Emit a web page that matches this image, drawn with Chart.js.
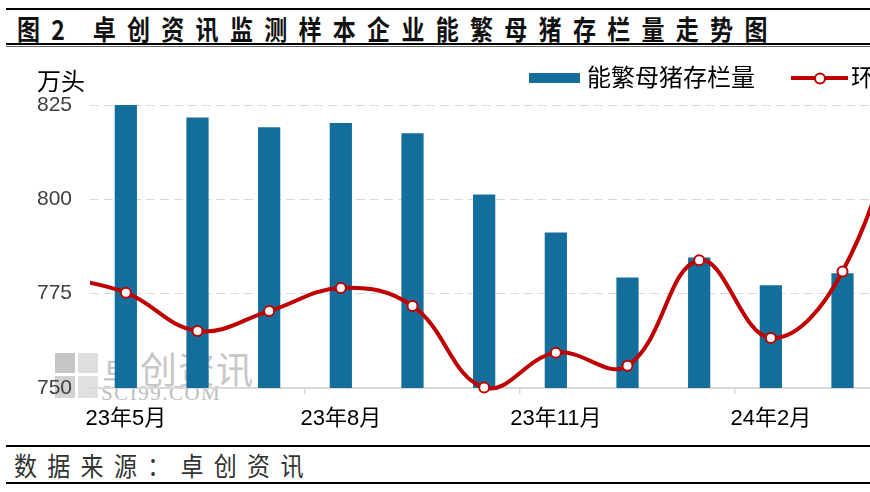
<!DOCTYPE html>
<html>
<head>
<meta charset="utf-8">
<script src="https://cdn.jsdelivr.net/npm/chart.js@4.4.1/dist/chart.umd.min.js"></script>
<style>
  body { margin: 0; width: 870px; height: 492px; overflow: hidden; background: #fff; position: relative; font-family: "Noto Sans CJK SC", sans-serif; }
  .rule { position: absolute; left: 6px; width: 870px; background: #000; }
  .title { position: absolute; left: 17px; top: 15px; font-size: 23px; line-height: 23px; font-weight: bold; letter-spacing: 11.3px; white-space: nowrap; transform: scaleY(1.18); transform-origin: top left; color: #111; }
  .source { position: absolute; left: 14px; top: 452px; font-size: 23px; line-height: 23px; letter-spacing: 10.3px; white-space: nowrap; transform: scaleY(1.15); transform-origin: top left; color: #333; }
  .wm { position: absolute; color: #c8c8c8; white-space: nowrap; }
  .sq { position: absolute; background: #c6c6c6; }
  #wrap { position: absolute; left: 0; top: 50px; width: 972px; height: 390px; }
</style>
</head>
<body>
<div class="rule" style="top:8px;height:2px"></div>
<div class="title">图2 卓创资讯监测样本企业能繁母猪存栏量走势图</div>
<div class="rule" style="top:43px;height:2px"></div>
<div class="rule" style="top:46px;height:1px;background:#666"></div>

<!-- watermark -->
<div class="sq" style="left:55px;top:353px;width:20px;height:20px"></div>
<div class="sq" style="left:78px;top:353px;width:20px;height:20px;background:#dedede"></div>
<div class="sq" style="left:55px;top:376px;width:20px;height:22px;background:#d2d2d2"></div>
<div class="sq" style="left:78px;top:376px;width:20px;height:22px;background:#e0e0e0"></div>
<div class="wm" style="left:102px;top:341px;font-size:37px;letter-spacing:1px">卓创资讯</div>
<div class="wm" style="left:101px;top:381px;font-size:21px;font-family:'Liberation Serif';letter-spacing:1.5px;color:#bdbdbd">SCI99.COM</div>

<div id="wrap"><canvas id="sowChart" width="972" height="390"></canvas></div>

<div class="rule" style="top:445px;height:2px"></div>
<div class="source">数据来源：卓创资讯</div>
<div class="rule" style="top:482px;height:2px"></div>

<script>
// months; 23年4月 sits left of the plot and 24年4月 past the right edge of the page,
// only the line reaches them
const months = ['23年4月', '23年5月', '23年6月', '23年7月', '23年8月', '23年9月', '23年10月',
  '23年11月', '23年12月', '24年1月', '24年2月', '24年3月', '24年4月'];
// 能繁母猪存栏量, 万头
const sowStock = [null, 825.4, 821.7, 819.1, 820.2, 817.5, 801.3, 791.2, 779.3, 784.6, 777.2, 780.4, null];
// 环比, %
const momChange = [0.38, 0.02, -0.79, -0.37, 0.12, -0.26, -1.99, -1.25, -1.53, 0.71, -0.94, 0.47, 4.8];
const stockTicks = [750, 775, 800, 825];
const momRange = [-2, 4];

const BLUE = '#146E9B';
const RED = '#C00000';

// legend and unit label drawn where the original has them
const legendAndUnit = {
  id: 'legendAndUnit',
  afterDraw(chart) {
    const ctx = chart.ctx;
    const bars = chart.data.datasets[0];
    const line = chart.data.datasets[1];
    ctx.save();
    ctx.font = '24px "Noto Sans CJK SC"';
    ctx.textBaseline = 'middle';
    ctx.fillStyle = '#000';
    ctx.fillText('万头', 37, 31);

    ctx.fillStyle = bars.backgroundColor;
    ctx.fillRect(529, 23, 51, 10);
    ctx.fillStyle = '#000';
    ctx.fillText(bars.label, 587, 27);

    ctx.strokeStyle = line.borderColor;
    ctx.lineWidth = 4;
    ctx.beginPath();
    ctx.moveTo(791, 28);
    ctx.lineTo(848, 28);
    ctx.stroke();
    ctx.beginPath();
    ctx.arc(820, 28.5, 5, 0, Math.PI * 2);
    ctx.fillStyle = '#fff';
    ctx.fill();
    ctx.lineWidth = 2;
    ctx.stroke();
    ctx.fillStyle = '#000';
    ctx.fillText(line.label, 851, 27);
    ctx.restore();
  }
};

new Chart(document.getElementById('sowChart'), {
  data: {
    labels: months,
    datasets: [{
      type: 'bar',
      label: '能繁母猪存栏量',
      data: sowStock,
      backgroundColor: BLUE,
      barPercentage: 0.31,
      categoryPercentage: 1,
      yAxisID: 'y',
      order: 1
    }, {
      type: 'line',
      label: '环比',
      data: momChange,
      yAxisID: 'y1',
      borderColor: RED,
      borderWidth: 4,
      tension: 0.4,
      pointRadius: 5,
      pointBorderWidth: 2,
      pointBackgroundColor: '#fff',
      pointBorderColor: RED,
      clip: { left: 0, top: 10, right: 0, bottom: 10 },
      order: 0
    }]
  },
  options: {
    responsive: false,
    animation: false,
    layout: { padding: { top: 55, left: 0, right: 22, bottom: 2 } },
    elements: { line: { capBezierPoints: false } },
    plugins: {
      legend: { display: false },
      tooltip: { enabled: false }
    },
    scales: {
      x: {
        type: 'category',
        min: months[1],
        offset: true,
        grid: {
          offset: true,
          drawOnChartArea: false,
          drawTicks: true,
          tickLength: 6,
          lineWidth: 1.5,
          color: c => c.index % 3 === 0 ? '#d9d9d9' : 'transparent'
        },
        border: { display: true, color: '#d9d9d9', width: 2 },
        ticks: {
          autoSkip: false,
          maxRotation: 0,
          padding: 12,
          color: '#000',
          font: { family: '"Liberation Sans", "Noto Sans CJK SC"', size: 22 },
          callback: (v, i) => i % 3 === 0 ? months[v] : ''
        },
        afterFit: s => { s.height = 50; }
      },
      y: {
        position: 'left',
        min: stockTicks[0],
        max: stockTicks[stockTicks.length - 1],
        ticks: {
          stepSize: stockTicks[1] - stockTicks[0],
          padding: 18,
          color: '#404040',
          font: { family: 'Liberation Sans', size: 21 }
        },
        grid: {
          drawTicks: false,
          color: c => c.tick && c.tick.value === stockTicks[0] ? 'transparent' : '#d9d9d9'
        },
        border: { display: false, dash: [9, 5] },
        afterFit: s => { s.width = 90; }
      },
      y1: {
        position: 'right',
        display: false,
        min: momRange[0],
        max: momRange[1]
      }
    }
  },
  plugins: [legendAndUnit]
});
</script>
</body>
</html>
